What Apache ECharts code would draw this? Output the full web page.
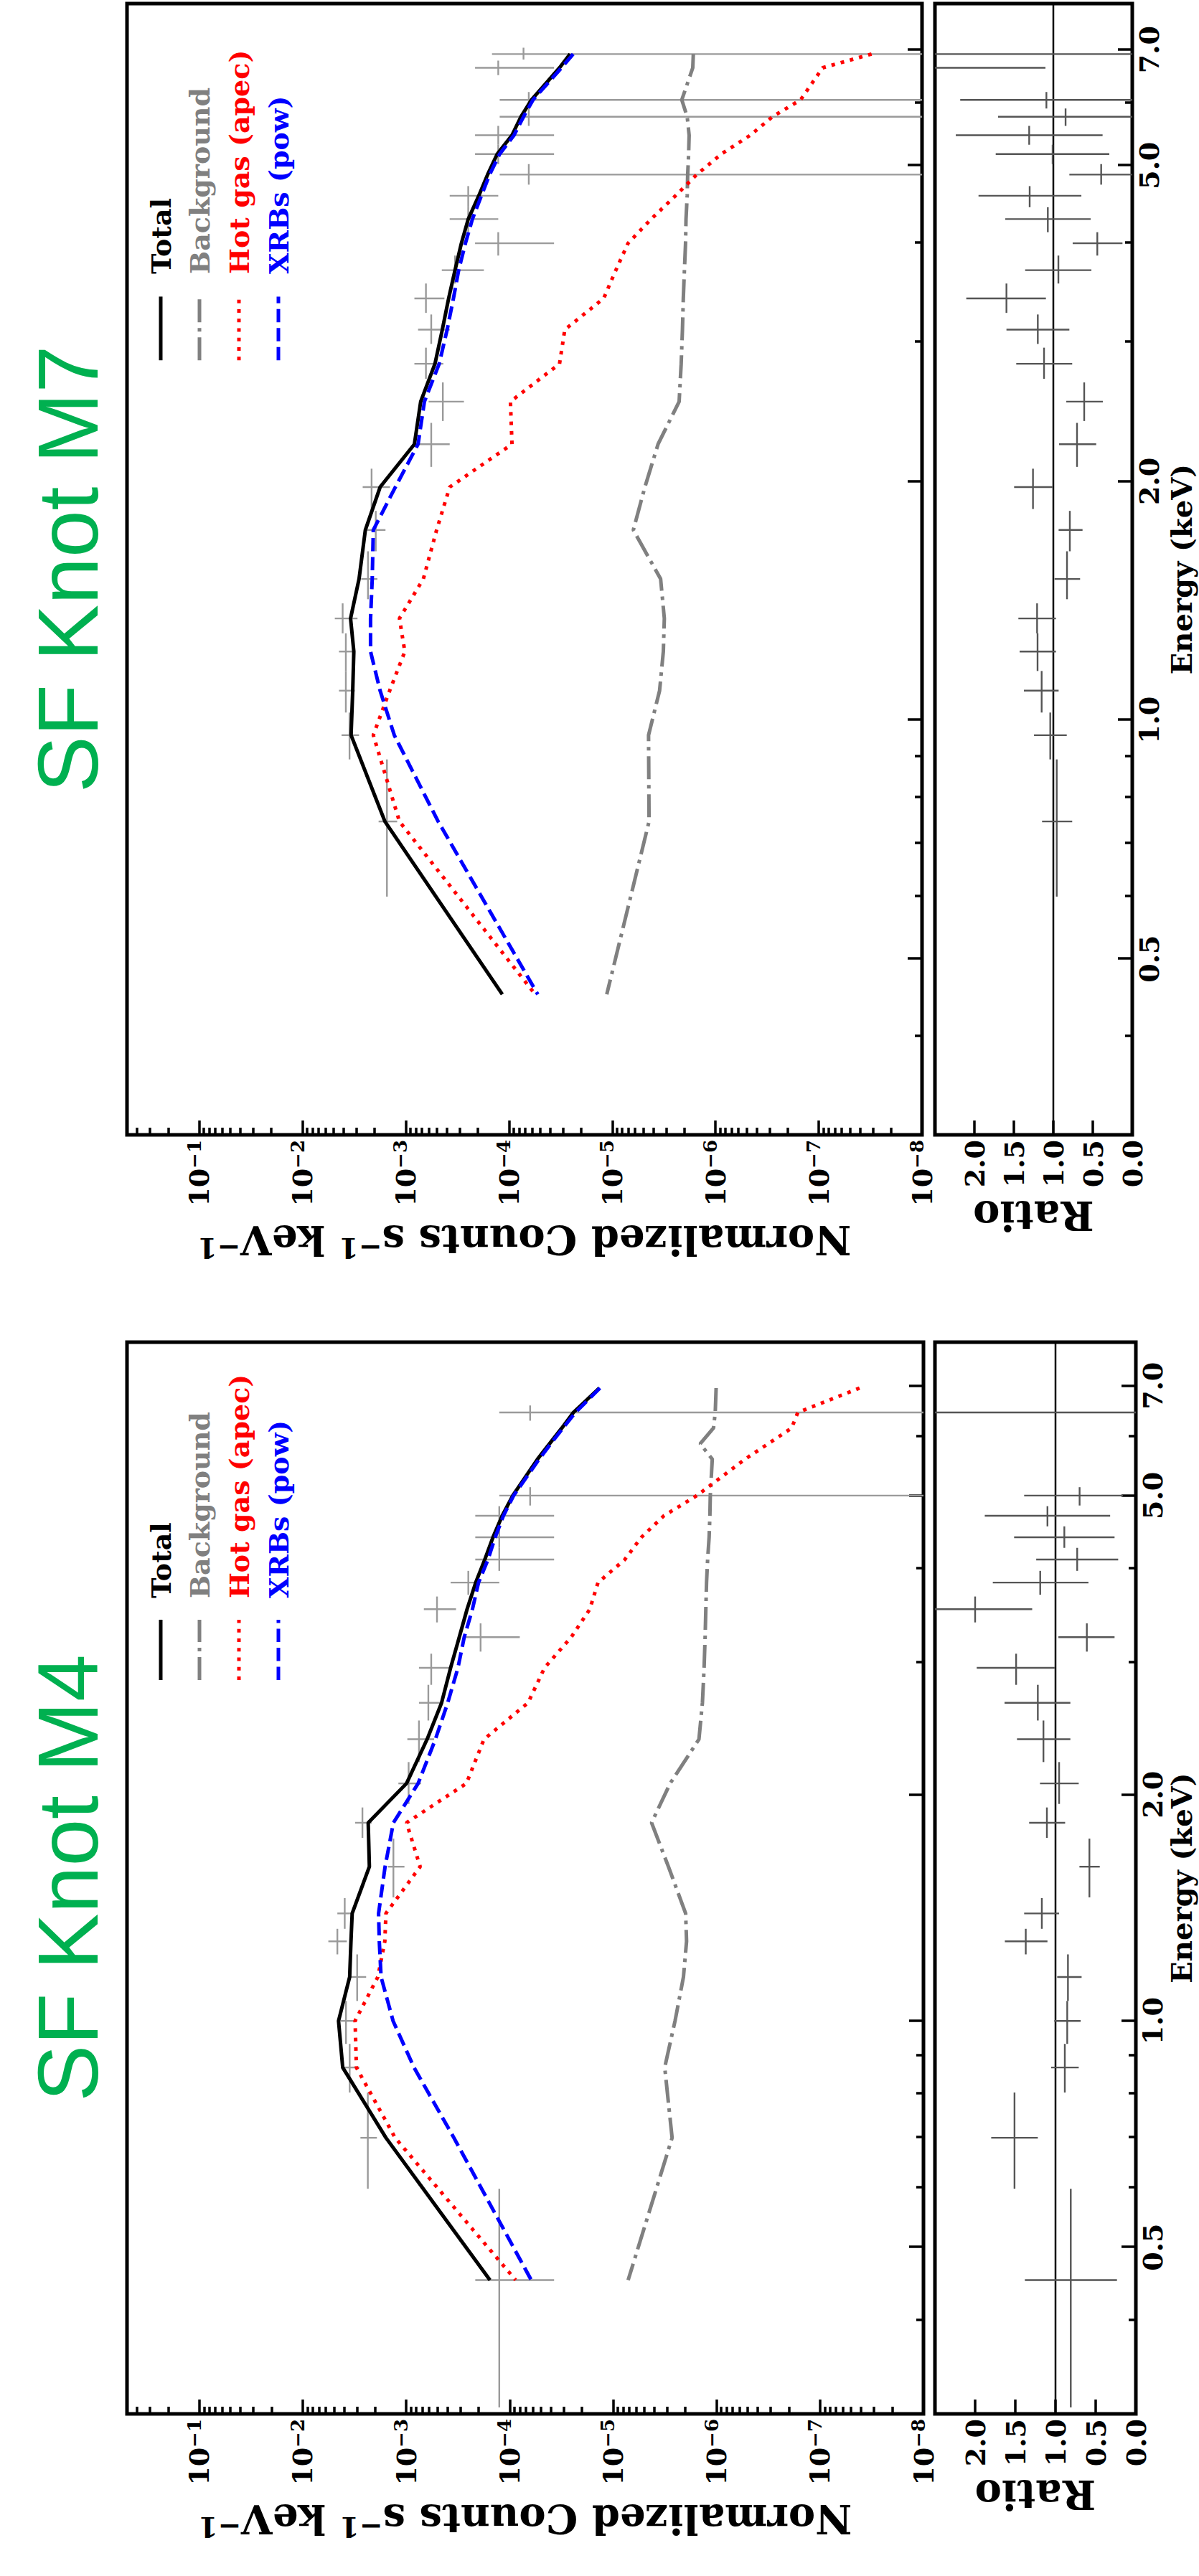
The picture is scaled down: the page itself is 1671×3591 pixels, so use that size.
<!DOCTYPE html>
<html>
<head>
<meta charset="utf-8">
<script src="https://cdn.jsdelivr.net/npm/echarts@6/dist/echarts.min.js"></script>
<style>
html,body{margin:0;padding:0;background:#fff;width:1671px;height:3591px;overflow:hidden}
#chart{position:absolute;left:0;top:0;width:3591px;height:1671px;transform-origin:0 0;transform:translateY(3591px) rotate(-90deg);background:#fff}
</style>
</head>
<body>
<div id="chart"></div>
<script>
// ---------------- tick labels ----------------
const energyMajorTicks = [0.5, 1, 2, 5, 7];
const energyMinorTicks = [0.4, 0.6, 0.7, 0.8, 0.9, 3, 4, 6];
const countsMajorTicks = [1e-8, 1e-7, 1e-6, 1e-5, 1e-4, 1e-3, 1e-2, 1e-1];
const countsMinorTicks = [];
for (let n = -8; n <= -1; n++) { for (let k = 2; k <= 9; k++) { const v = k * Math.pow(10, n); if (v < 0.5) countsMinorTicks.push(+v.toPrecision(3)); } }
const titles = ['SF Knot M4', 'SF Knot M7'];
const legendNames = ['Total', 'Background', 'Hot gas (apec)', 'XRBs (pow)'];

// ---------------- SF Knot M4 ----------------
const m4ModelE = [6.95, 6.45, 6.15, 5.86, 5.59, 5.00, 4.70, 4.40, 4.11, 3.83, 3.53, 3.24, 2.95, 2.65, 2.37, 2.07, 1.835, 1.604, 1.390, 1.276, 1.144, 1.000, 0.867, 0.699, 0.452];
const m4Total = [1.36e-5, 2.42e-5, 3.13e-5, 4.12e-5, 5.38e-5, 9.33e-5, 1.18e-4, 1.45e-4, 1.74e-4, 2.13e-4, 2.58e-4, 3.07e-4, 3.72e-4, 4.55e-4, 6.28e-4, 9.93e-4, 2.33e-3, 2.27e-3, 3.33e-3, 3.42e-3, 3.52e-3, 4.51e-3, 4.11e-3, 1.57e-3, 1.55e-4];
const m4Background = [1.01e-6, 1.03e-6, 1.07e-6, 1.44e-6, 1.10e-6, 1.15e-6, 1.16e-6, 1.18e-6, 1.22e-6, 1.25e-6, 1.27e-6, 1.29e-6, 1.32e-6, 1.37e-6, 1.48e-6, 2.81e-6, 4.25e-6, 2.92e-6, 1.99e-6, 1.95e-6, 2.09e-6, 2.52e-6, 3.17e-6, 2.69e-6, 7.16e-6];
const m4HotGas = [4.15e-8, 1.64e-7, 1.88e-7, 3.17e-7, 5.30e-7, 1.55e-6, 3.23e-6, 5.33e-6, 7.71e-6, 1.40e-5, 1.68e-5, 2.54e-5, 4.60e-5, 6.64e-5, 1.77e-4, 2.62e-4, 9.93e-4, 7.33e-4, 1.57e-3, 1.61e-3, 1.88e-3, 3.12e-3, 3.03e-3, 1.28e-3, 8.75e-5];
const m4XRBs = [1.34e-5, 2.31e-5, 3.05e-5, 4.01e-5, 5.19e-5, 9.16e-5, 1.15e-4, 1.38e-4, 1.62e-4, 2.00e-4, 2.29e-4, 2.75e-4, 3.16e-4, 3.97e-4, 5.22e-4, 7.67e-4, 1.33e-3, 1.60e-3, 1.85e-3, 1.82e-3, 1.75e-3, 1.34e-3, 8.41e-4, 3.46e-4, 6.18e-5];

const m4DataE   = [6.45, 5.00, 4.70, 4.40, 4.11, 3.83, 3.53, 3.24, 2.95, 2.65, 2.37, 2.07, 1.835, 1.604, 1.390, 1.276, 1.144, 1.000, 0.867, 0.699, 0.452];
const m4DataElo = [6.29, 4.85, 4.55, 4.26, 3.97, 3.69, 3.39, 3.10, 2.80, 2.51, 2.21, 1.944, 1.752, 1.460, 1.326, 1.226, 1.063, 0.932, 0.803, 0.598, 0.306];
const m4DataEhi = [6.59, 5.13, 4.84, 4.55, 4.26, 3.97, 3.67, 3.38, 3.08, 2.80, 2.51, 2.21, 1.923, 1.748, 1.457, 1.326, 1.226, 1.063, 0.932, 0.803, 0.598];
const m4Counts   = [6.34e-5, 6.34e-5, 1.26e-4, 1.26e-4, 1.26e-4, 2.51e-4, 5.04e-4, 1.91e-4, 5.73e-4, 6.11e-4, 7.53e-4, 9.48e-4, 2.65e-3, 1.33e-3, 3.93e-3, 4.63e-3, 2.98e-3, 3.82e-3, 3.52e-3, 2.35e-3, 1.26e-4];
const m4CountsLo = [0, 0, 3.72e-5, 3.72e-5, 3.72e-5, 1.26e-4, 3.30e-4, 7.98e-5, 3.78e-4, 4.69e-4, 5.37e-4, 7.19e-4, 2.16e-3, 1.04e-3, 3.27e-3, 3.75e-3, 2.44e-3, 3.06e-3, 2.84e-3, 1.92e-3, 3.72e-5];
const m4CountsHi = [1.26e-4, 1.26e-4, 2.15e-4, 2.15e-4, 2.15e-4, 3.72e-4, 6.75e-4, 2.70e-4, 7.53e-4, 7.53e-4, 9.75e-4, 1.19e-3, 3.12e-3, 1.50e-3, 4.63e-3, 5.66e-3, 3.58e-3, 4.31e-3, 4.11e-3, 2.77e-3, 2.15e-4];
const m4Ratio   = [2.50, 0.70, 1.10, 0.89, 0.73, 1.19, 2.00, 0.61, 1.49, 1.22, 1.15, 0.955, 1.107, 0.578, 1.17, 1.37, 0.845, 0.854, 0.884, 1.51, 0.81];
const m4RatioLo = [0.0, 0.16, 0.32, 0.265, 0.22, 0.59, 1.29, 0.265, 1.01, 0.815, 0.815, 0.711, 0.88, 0.449, 0.955, 1.10, 0.675, 0.687, 0.711, 1.22, 0.235];
const m4RatioHi = [5.0, 1.39, 1.88, 1.515, 1.24, 1.78, 2.71, 0.964, 1.98, 1.634, 1.479, 1.193, 1.328, 0.702, 1.39, 1.63, 0.979, 1.015, 1.054, 1.80, 1.381];

// ---------------- SF Knot M7 ----------------
const m7ModelE = [6.91, 6.64, 6.05, 5.76, 5.46, 5.17, 4.87, 4.58, 4.28, 3.99, 3.69, 3.40, 3.105, 2.812, 2.520, 2.227, 1.966, 1.736, 1.506, 1.343, 1.220, 1.089, 0.957, 0.745, 0.451];
const m7Total = [2.56e-5, 3.24e-5, 6.05e-5, 7.66e-5, 9.35e-5, 1.30e-4, 1.61e-4, 1.96e-4, 2.48e-4, 2.89e-4, 3.33e-4, 3.84e-4, 4.42e-4, 5.21e-4, 7.16e-4, 8.24e-4, 1.77e-3, 2.46e-3, 2.83e-3, 3.42e-3, 3.18e-3, 3.26e-3, 3.38e-3, 1.59e-3, 1.16e-4];
const m7Background = [1.64e-6, 1.66e-6, 2.12e-6, 1.88e-6, 1.80e-6, 1.82e-6, 1.86e-6, 1.88e-6, 1.93e-6, 1.95e-6, 2.00e-6, 2.05e-6, 2.09e-6, 2.15e-6, 2.25e-6, 3.60e-6, 4.83e-6, 6.25e-6, 3.40e-6, 3.13e-6, 3.20e-6, 3.48e-6, 4.45e-6, 4.40e-6, 1.13e-5];
const m7HotGas = [3.08e-8, 9.18e-8, 1.50e-7, 2.81e-7, 4.60e-7, 8.77e-7, 1.52e-6, 2.44e-6, 4.20e-6, 7.03e-6, 9.23e-6, 1.21e-5, 2.88e-5, 3.24e-5, 9.68e-5, 9.35e-5, 3.75e-4, 5.02e-4, 6.75e-4, 1.15e-3, 1.02e-3, 1.43e-3, 2.06e-3, 1.15e-3, 5.57e-5];
const m7XRBs = [2.39e-5, 3.10e-5, 5.85e-5, 7.23e-5, 8.93e-5, 1.23e-4, 1.54e-4, 1.85e-4, 2.26e-4, 2.64e-4, 3.07e-4, 3.45e-4, 3.97e-4, 4.74e-4, 6.59e-4, 7.59e-4, 1.26e-3, 2.06e-3, 2.11e-3, 2.19e-3, 2.19e-3, 1.77e-3, 1.29e-3, 4.85e-4, 5.26e-5];

const m7DataE   = [6.91, 6.64, 6.05, 5.76, 5.46, 5.17, 4.87, 4.58, 4.28, 3.99, 3.69, 3.40, 3.105, 2.812, 2.520, 2.227, 1.966, 1.736, 1.506, 1.343, 1.220, 1.089, 0.957, 0.745];
const m7DataElo = [6.80, 6.50, 5.90, 5.61, 5.31, 5.02, 4.73, 4.43, 4.12, 3.85, 3.55, 3.26, 2.979, 2.692, 2.382, 2.085, 1.845, 1.632, 1.42, 1.286, 1.153, 1.022, 0.892, 0.599];
const m7DataEhi = [7.04, 6.78, 6.19, 5.90, 5.61, 5.31, 5.02, 4.71, 4.43, 4.12, 3.85, 3.55, 3.245, 2.947, 2.664, 2.369, 2.074, 1.835, 1.632, 1.403, 1.286, 1.153, 1.022, 0.892];
const m7Counts   = [7.23e-5, 1.27e-4, 6.43e-5, 6.43e-5, 1.27e-4, 1.27e-4, 6.43e-5, 2.48e-4, 2.48e-4, 1.27e-4, 3.33e-4, 6.37e-4, 5.66e-4, 6.37e-4, 4.37e-4, 5.66e-4, 2.14e-3, 1.95e-3, 2.32e-3, 4.08e-3, 3.80e-3, 3.80e-3, 3.50e-3, 1.52e-3];
const m7CountsLo = [0, 3.66e-5, 0, 0, 3.66e-5, 3.66e-5, 0, 1.27e-4, 1.27e-4, 3.66e-5, 1.75e-4, 4.22e-4, 3.75e-4, 4.32e-4, 2.73e-4, 3.75e-4, 1.42e-3, 1.57e-3, 1.88e-3, 2.93e-3, 3.22e-3, 3.11e-3, 2.83e-3, 1.21e-3];
const m7CountsHi = [1.46e-4, 2.13e-4, 1.23e-4, 1.23e-4, 2.13e-4, 2.13e-4, 1.23e-4, 3.75e-4, 3.75e-4, 2.13e-4, 4.47e-4, 8.24e-4, 7.59e-4, 8.24e-4, 6.00e-4, 8.24e-4, 2.61e-3, 2.38e-3, 2.70e-3, 4.86e-3, 4.43e-3, 4.43e-3, 4.18e-3, 1.83e-3];
const m7Ratio   = [2.82, 3.78, 1.088, 0.845, 1.306, 1.009, 0.394, 1.30, 1.07, 0.443, 0.936, 1.594, 1.197, 1.118, 0.609, 0.70, 1.258, 0.791, 0.827, 1.206, 1.20, 1.148, 1.039, 0.957];
const m7RatioLo = [0.0, 1.10, 0.0, 0.0, 0.376, 0.291, 0.0, 0.645, 0.527, 0.124, 0.518, 1.094, 0.797, 0.761, 0.373, 0.457, 1.012, 0.630, 0.661, 0.967, 0.967, 0.933, 0.83, 0.761];
const m7RatioHi = [5.6, 6.46, 2.18, 1.70, 2.236, 1.730, 0.797, 1.948, 1.609, 0.755, 1.357, 2.103, 1.594, 1.470, 0.836, 0.927, 1.497, 0.933, 0.985, 1.443, 1.427, 1.373, 1.245, 1.143];

// ---------------- styling / layout ----------------
const SERIF = 'DejaVu Serif';
const E_MIN = 0.3, E_MAX = 8, C_MIN = 1e-8, C_MAX = 0.5, R_MIN = 0, R_MAX = 2.5, R_UNITY = 1;
const LW = 5;
const styles = {
  'Total':          { color: '#000000', dash: 'solid' },
  'Background':     { color: '#808080', dash: [32, 8, 5, 8] },
  'Hot gas (apec)': { color: '#ff0000', dash: [5, 8.25] },
  'XRBs (pow)':     { color: '#0000ff', dash: [18.5, 8] }
};

const panels = [
  { title: titles[0], left: 226, width: 1494, mainTop: 177, mainH: 1110, ratioTop: 1303, ratioH: 280, energyNameGap: 41,
    modelE: m4ModelE, models: [m4Total, m4Background, m4HotGas, m4XRBs],
    dE: m4DataE, dElo: m4DataElo, dEhi: m4DataEhi, c: m4Counts, cLo: m4CountsLo, cHi: m4CountsHi,
    r: m4Ratio, rLo: m4RatioLo, rHi: m4RatioHi },
  { title: titles[1], left: 2009, width: 1577, mainTop: 177, mainH: 1108, ratioTop: 1303, ratioH: 275, energyNameGap: 46,
    modelE: m7ModelE, models: [m7Total, m7Background, m7HotGas, m7XRBs],
    dE: m7DataE, dElo: m7DataElo, dEhi: m7DataEhi, c: m7Counts, cLo: m7CountsLo, cHi: m7CountsHi,
    r: m7Ratio, rLo: m7RatioLo, rHi: m7RatioHi }
];

const tickLine = { color: '#000', width: 3.5 };
const tickLabel = { color: '#000', fontFamily: SERIF, fontWeight: 'bold', fontSize: 38 };

function energyMajor(g, withLabels, nameGap) {
  return {
    type: 'log', logBase: 10, gridIndex: g, min: E_MIN, max: E_MAX, position: 'bottom',
    axisLine: { show: false }, splitLine: { show: false },
    axisTick: { show: true, inside: true, length: 20, lineStyle: tickLine, customValues: energyMajorTicks },
    axisLabel: Object.assign({ show: withLabels, customValues: energyMajorTicks, margin: 3, lineHeight: 40,
      formatter: v => Number(v).toFixed(1) }, tickLabel),
    name: withLabels ? 'Energy (keV)' : '', nameLocation: 'middle', nameGap: nameGap || 30, nameMoveOverlap: false,
    nameTextStyle: { color: '#000', fontFamily: SERIF, fontWeight: 'bold', fontSize: 40, lineHeight: 44 }
  };
}
function energyMinor(g) {
  return {
    type: 'log', logBase: 10, gridIndex: g, min: E_MIN, max: E_MAX, position: 'bottom',
    axisLine: { show: false }, splitLine: { show: false },
    axisTick: { show: true, inside: true, length: 10, lineStyle: tickLine, customValues: energyMinorTicks },
    axisLabel: { show: false }
  };
}
function countsMajor(g) {
  return {
    type: 'log', logBase: 10, gridIndex: g, min: C_MIN, max: C_MAX, position: 'left',
    axisLine: { show: false }, splitLine: { show: false },
    axisTick: { show: true, inside: true, length: 20, lineStyle: tickLine, customValues: countsMajorTicks },
    axisLabel: {
      show: true, customValues: countsMajorTicks, margin: 7,
      formatter: v => '{b|10}{s|\u2212' + Math.round(-Math.log10(v)) + '}',
      rich: {
        b: { fontFamily: SERIF, fontWeight: 'bold', fontSize: 38, lineHeight: 40, color: '#000' },
        s: { fontFamily: SERIF, fontWeight: 'bold', fontSize: 26, lineHeight: 22, verticalAlign: 'top', color: '#000' }
      }
    },
    name: '{n|Normalized Counts s}{s|\u22121}{n| keV}{s|\u22121}', nameLocation: 'middle', nameGap: 117, nameRotate: 90,
    nameTextStyle: {
      rich: {
        n: { fontFamily: SERIF, fontWeight: 'bold', fontSize: 56, lineHeight: 60, color: '#000' },
        s: { fontFamily: SERIF, fontWeight: 'bold', fontSize: 39, lineHeight: 34, verticalAlign: 'top', color: '#000' }
      }
    }
  };
}
function countsMinor(g) {
  return {
    type: 'log', logBase: 10, gridIndex: g, min: C_MIN, max: C_MAX, position: 'left',
    axisLine: { show: false }, splitLine: { show: false },
    axisTick: { show: true, inside: true, length: 10, lineStyle: tickLine, customValues: countsMinorTicks },
    axisLabel: { show: false }
  };
}
function ratioAxis(g) {
  return {
    type: 'value', gridIndex: g, min: R_MIN, max: R_MAX, interval: 0.5, position: 'left',
    axisLine: { show: false }, splitLine: { show: false },
    axisTick: { show: true, inside: true, length: 20, lineStyle: tickLine },
    axisLabel: Object.assign({ margin: 7, lineHeight: 40, formatter: v => (v >= R_MAX ? '' : Number(v).toFixed(1)) }, tickLabel),
    name: 'Ratio', nameLocation: 'middle', nameGap: 83, nameRotate: 90,
    nameTextStyle: { color: '#000', fontFamily: SERIF, fontWeight: 'bold', fontSize: 56, lineHeight: 60 }
  };
}

function crossRenderer(yMin, yMax, color, width) {
  return function (params, api) {
    const e = api.value(0), elo = api.value(1), ehi = api.value(2);
    const v = api.value(3), vlo = api.value(4), vhi = api.value(5);
    const cl = (t, a, b) => Math.min(b, Math.max(a, t));
    const children = [];
    if (v > yMin && v < yMax) {
      const p1 = api.coord([cl(elo, E_MIN, E_MAX), v]);
      const p2 = api.coord([cl(ehi, E_MIN, E_MAX), v]);
      children.push({ type: 'line', shape: { x1: p1[0], y1: p1[1], x2: p2[0], y2: p2[1] }, style: { stroke: color, lineWidth: width } });
    }
    const q1 = api.coord([e, cl(vlo, yMin, yMax)]);
    const q2 = api.coord([e, cl(vhi, yMin, yMax)]);
    children.push({ type: 'line', shape: { x1: q1[0], y1: q1[1], x2: q2[0], y2: q2[1] }, style: { stroke: color, lineWidth: width } });
    return { type: 'group', children: children };
  };
}

const grids = [], xAxes = [], yAxes = [], series = [], graphics = [];
const legendRows = [224, 278, 333, 388];

panels.forEach(p => {
  const gMain = grids.length;
  grids.push({ left: p.left, top: p.mainTop, width: p.width, height: p.mainH, show: true, borderColor: '#000', borderWidth: 5, backgroundColor: 'transparent', containLabel: false, outerBoundsMode: 'none' });
  const gRatio = grids.length;
  grids.push({ left: p.left, top: p.ratioTop, width: p.width, height: p.ratioH, show: true, borderColor: '#000', borderWidth: 5, backgroundColor: 'transparent', containLabel: false, outerBoundsMode: 'none' });

  const xMain = xAxes.length; xAxes.push(energyMajor(gMain, false)); xAxes.push(energyMinor(gMain));
  const xRatio = xAxes.length; xAxes.push(energyMajor(gRatio, true, p.energyNameGap)); xAxes.push(energyMinor(gRatio));
  const yMain = yAxes.length; yAxes.push(countsMajor(gMain)); yAxes.push(countsMinor(gMain));
  const yRatio = yAxes.length; yAxes.push(ratioAxis(gRatio));

  // data crosses (main)
  series.push({
    type: 'custom', xAxisIndex: xMain, yAxisIndex: yMain, clip: true, z: 2,
    encode: { x: 0, y: 3 },
    data: p.dE.map((e, i) => [e, p.dElo[i], p.dEhi[i], p.c[i], p.cLo[i], p.cHi[i]]),
    renderItem: crossRenderer(C_MIN, C_MAX, '#9a9a9a', 2.4)
  });
  // model curves
  legendNames.forEach((nm, k) => {
    const st = styles[nm];
    series.push({
      type: 'line', name: nm, xAxisIndex: xMain, yAxisIndex: yMain, symbol: 'none', z: 3 + k,
      data: p.modelE.map((e, i) => [e, p.models[k][i]]),
      lineStyle: { color: st.color, width: LW, type: st.dash, cap: 'butt' },
      emphasis: { disabled: true }
    });
  });
  // ratio = 1 line
  series.push({
    type: 'line', xAxisIndex: xRatio, yAxisIndex: yRatio, symbol: 'none', z: 3,
    data: [[E_MIN, R_UNITY], [E_MAX, R_UNITY]],
    lineStyle: { color: '#000', width: 2.5 }, emphasis: { disabled: true }
  });
  // ratio crosses
  series.push({
    type: 'custom', xAxisIndex: xRatio, yAxisIndex: yRatio, clip: true, z: 4,
    encode: { x: 0, y: 3 },
    data: p.dE.map((e, i) => [e, p.dElo[i], p.dEhi[i], p.r[i], p.rLo[i], p.rHi[i]]),
    renderItem: crossRenderer(R_MIN, R_MAX, '#555555', 2.4)
  });

  // title
  graphics.push({ type: 'text', x: p.left + p.width / 2, y: 95, z: 10,
    style: { text: p.title, fill: '#00B050', fontSize: 118, fontFamily: 'Liberation Sans', align: 'center', verticalAlign: 'middle' } });
  // legend
  const lx0 = p.left + 0.6847 * p.width, lx1 = lx0 + 0.0563 * p.width, tx = p.left + 0.761 * p.width;
  legendNames.forEach((nm, k) => {
    const st = styles[nm];
    graphics.push({ type: 'line', z: 10, shape: { x1: lx0, y1: legendRows[k], x2: lx1, y2: legendRows[k] },
      style: { stroke: st.color, lineWidth: LW, lineDash: st.dash === 'solid' ? null : st.dash } });
    graphics.push({ type: 'text', x: tx, y: legendRows[k], z: 10,
      style: { text: nm, fill: st.color, fontSize: 38, fontFamily: SERIF, fontWeight: 'bold', align: 'left', verticalAlign: 'middle' } });
  });
});

const chart = echarts.init(document.getElementById('chart'), null, { renderer: 'svg', width: 3591, height: 1671 });
chart.setOption({
  animation: false,
  backgroundColor: '#ffffff',
  grid: grids,
  xAxis: xAxes,
  yAxis: yAxes,
  series: series,
  graphic: graphics
});
</script>
</body>
</html>
